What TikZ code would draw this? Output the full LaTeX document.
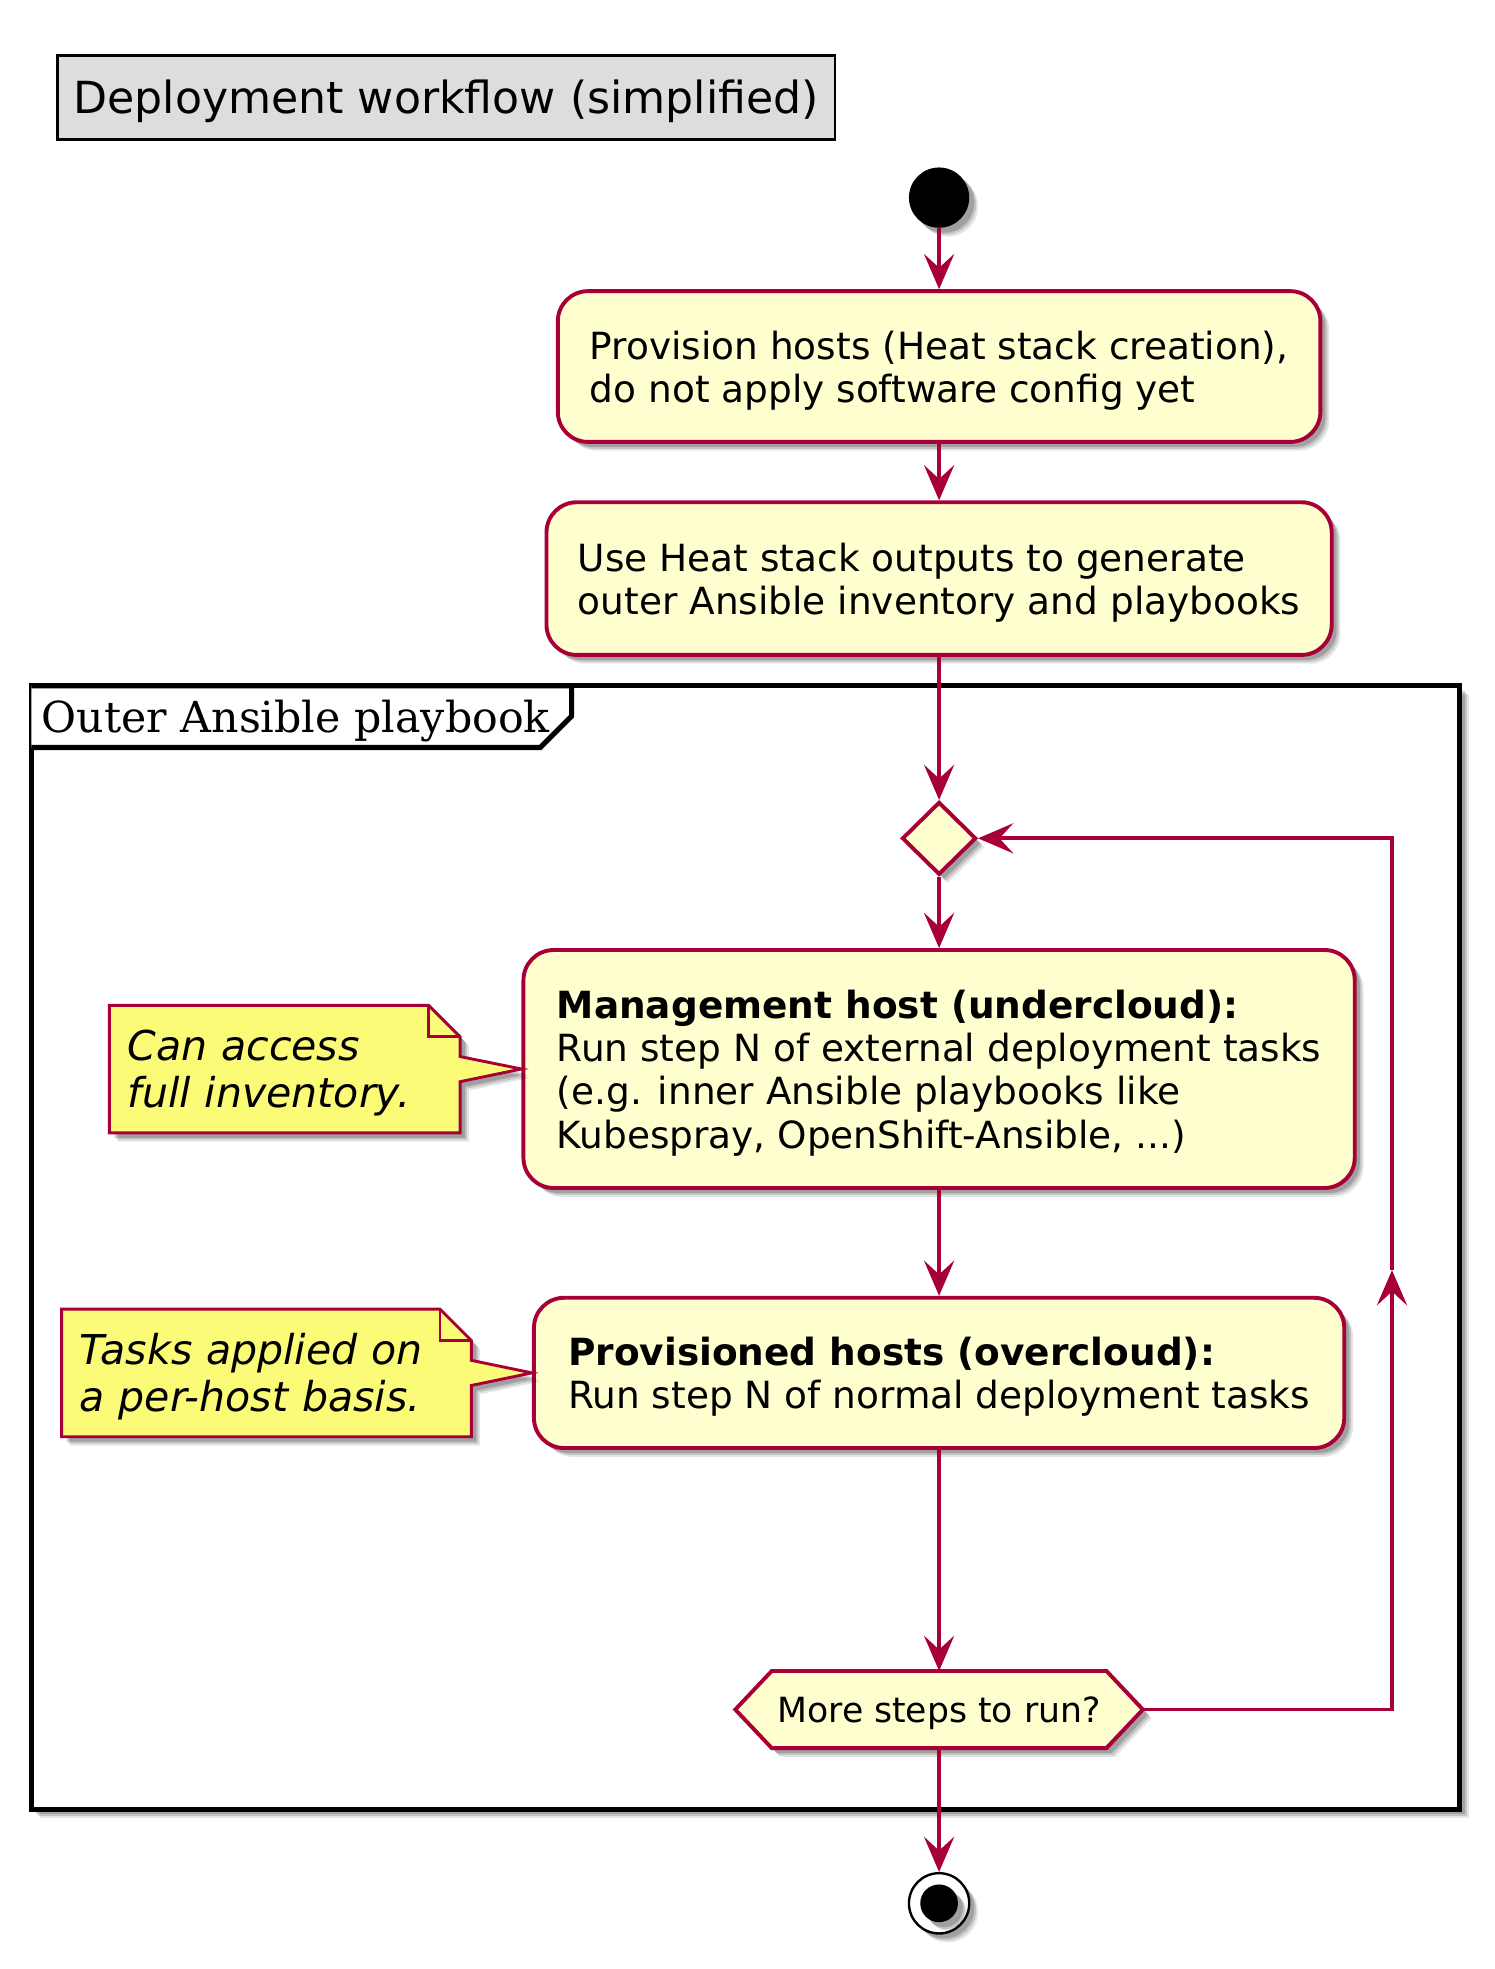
\documentclass[tikz,border=0pt]{standalone}
\usepackage{fontspec}
\setmainfont{DejaVu Sans}
\newfontfamily\frameserif{DejaVu Serif}
\usetikzlibrary{shadows,arrows.meta,shapes.geometric}
\definecolor{pbord}{HTML}{A80036}
\definecolor{pfill}{HTML}{FEFECE}
\definecolor{nfill}{HTML}{FBFB77}
\definecolor{tfill}{HTML}{DDDDDD}
\newcommand\mytopstrut[1]{\rule{0pt}{#1}}
\begin{document}
\begin{tikzpicture}[x=1pt,y=1pt,
  shad/.style={
    drop shadow={shadow xshift=7pt,shadow yshift=-7pt,opacity=0.10,fill=black},
    drop shadow={shadow xshift=5.5pt,shadow yshift=-5.5pt,opacity=0.14,fill=black},
    drop shadow={shadow xshift=4pt,shadow yshift=-4pt,opacity=0.18,fill=black}},
  act/.style={draw=pbord,fill=pfill,line width=3.1pt,rounded corners=24pt,shad,align=left,inner sep=0pt,
    font=\fontsize{29.8}{34.5}\selectfont},
  flow/.style={draw=pbord,line width=3.1pt,-{Stealth[length=28pt,width=24pt,inset=11pt]}},
  notebox/.style={inner sep=0pt,align=left,font=\fontsize{32.7}{37.4}\selectfont\itshape},
  noteline/.style={draw=pbord,fill=nfill,line width=2.3pt,line join=miter,shad},
  foldline/.style={draw=pbord,line width=2.3pt,line join=miter},
]
\useasboundingbox (0,0) rectangle (1190,-1567.3);

% frame
\node[draw=black,fill=white,line width=4pt,minimum width=1137pt,minimum height=894pt,inner sep=0pt,shad] (frame) at (593.5,-993) {};
\draw[black,line width=4pt,line join=miter,fill=white] (25,-546) -- (455,-546) -- (455,-570) -- (430,-595) -- (25,-595);
\node[anchor=base west,inner sep=0pt,font=\frameserif\fontsize{34}{38}\selectfont] (flabel) at (33,-583) {Outer Ansible playbook};

% title
\node[draw=black,fill=tfill,line width=2.2pt,minimum width=619.2pt,minimum height=66.5pt,inner sep=0pt,
  font=\fontsize{35.2}{40}\selectfont] (title) at (355.1,-77.65) {\mytopstrut{33pt}Deployment workflow (simplified)};

% start
\node[circle,fill=black,minimum size=48pt,inner sep=0pt,shad] (start) at (747.5,-157.3) {};

% activities
\node[act,minimum width=607pt,minimum height=120pt] (b1) at (747.5,-291.75)
  {\mytopstrut{29pt}Provision hosts (Heat stack creation),\\do not apply software config yet};
\node[act,minimum width=625pt,minimum height=121.5pt] (b2) at (747.5,-460.55)
  {\mytopstrut{29pt}Use Heat stack outputs to generate\\outer Ansible inventory and playbooks};
\node[shape=diamond,draw=pbord,fill=pfill,line width=3.1pt,minimum width=59pt,minimum height=58pt,inner sep=0pt,shad] (dia) at (747.5,-667.3) {};
\node[act,minimum width=661.7pt,minimum height=189.4pt] (b3) at (747.5,-850.9)
  {\mytopstrut{29pt}\textbf{Management host (undercloud):}\\Run step N of external deployment tasks\\(e.g. inner Ansible playbooks like\\Kubespray, OpenShift-Ansible, ...)};
\node[act,minimum width=645pt,minimum height=119.6pt] (b4) at (747.5,-1092.8)
  {\mytopstrut{29pt}\textbf{Provisioned hosts (overcloud):}\\Run step N of normal deployment tasks};

% hexagon
\node[inner sep=0pt,minimum width=324pt,minimum height=61pt] (hex) at (747.5,-1360.75) {};
\path[draw=pbord,fill=pfill,line width=3.1pt,line join=miter,shad]
  (hex.west) -- ([xshift=29pt]hex.north west) -- ([xshift=-29pt]hex.north east) -- (hex.east)
  -- ([xshift=-29pt]hex.south east) -- ([xshift=29pt]hex.south west) -- cycle;
\node[font=\fontsize{27.6}{32}\selectfont,inner sep=0pt] (hextext) at (hex.center) {\mytopstrut{26pt}More steps to run?};

% end
\node[circle,draw=black,fill=white,line width=1.9pt,minimum size=48pt,inner sep=0pt,shad] (stop) at (747.5,-1515) {};
\node[circle,fill=black,minimum size=30pt,inner sep=0pt,shad] (stopin) at (stop.center) {};

% notes
\node[notebox,minimum width=278.7pt,minimum height=101pt,text width=250pt] (n1) at (226.65,-851) {\phantom{Can access}};
\path[noteline] (n1.north west) -- ([xshift=-25pt]n1.north east) -- ([yshift=-25pt]n1.north east)
  -- ([yshift=10pt]n1.east) -- (b3.west) -- ([yshift=-10pt]n1.east) -- (n1.south east) -- (n1.south west) -- cycle;
\draw[foldline] ([xshift=-25pt]n1.north east) -- ([xshift=-25pt,yshift=-25pt]n1.north east) -- ([yshift=-25pt]n1.north east);
\node[notebox,minimum width=278.7pt,minimum height=101pt,text width=250pt] (n1t) at (n1.center) {\mytopstrut{30.5pt}Can access\\full inventory.};

\node[notebox,minimum width=325.7pt,minimum height=101.2pt,text width=297pt] (n2) at (212.15,-1092.8) {\phantom{Tasks}};
\path[noteline] (n2.north west) -- ([xshift=-25pt]n2.north east) -- ([yshift=-25pt]n2.north east)
  -- ([yshift=10pt]n2.east) -- (b4.west) -- ([yshift=-10pt]n2.east) -- (n2.south east) -- (n2.south west) -- cycle;
\draw[foldline] ([xshift=-25pt]n2.north east) -- ([xshift=-25pt,yshift=-25pt]n2.north east) -- ([yshift=-25pt]n2.north east);
\node[notebox,minimum width=325.7pt,minimum height=101.2pt,text width=297pt] (n2t) at (n2.center) {\mytopstrut{30.5pt}Tasks applied on\\a per-host basis.};

% connectors
\draw[flow] (start.south) -- (b1.north);
\draw[flow] (b1.south) -- (b2.north);
\draw[flow] (b2.south) -- (dia.north);
\draw[flow] (dia.south) -- (b3.north);
\draw[flow] (b3.south) -- (b4.north);
\draw[flow] (b4.south) -- (hex.north);
\draw[flow] (hex.south) -- (stop.north);
\coordinate (lr) at (1108,-1360.75);
\coordinate (mid) at (1108,-1011);
\coordinate (ur) at (1108,-667.3);
\draw[flow] (hex.east) -- (lr) -- (mid);
\draw[flow,line join=miter] (mid) -- (ur) -- (dia.east);
\end{tikzpicture}
\end{document}
